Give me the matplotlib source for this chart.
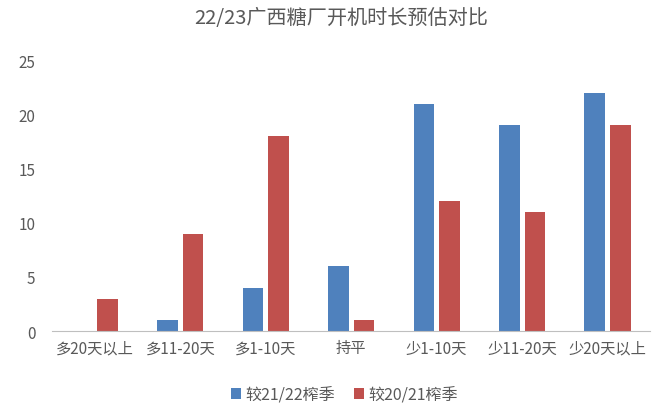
import matplotlib
import numpy as np

matplotlib.use("Agg")
import matplotlib.pyplot as plt

categories = ["多20天以上", "多11-20天", "多1-10天", "持平", "少1-10天", "少11-20天", "少20天以上"]
vs_2122 = [0, 1, 4, 6, 21, 19, 22]
vs_2021 = [3, 9, 18, 1, 12, 11, 19]
series_names = ["较21/22榨季", "较20/21榨季"]


def main() -> None:
    plt.rcParams["font.family"] = ["Noto Sans CJK SC", "DejaVu Sans"]
    text_color = "#595959"

    fig = plt.figure(figsize=(6.69, 4.10), dpi=100)
    ax = fig.add_axes([0.078, 0.19, 0.894, 0.66])

    x = np.arange(len(categories))
    w = 0.24
    ax.bar(x - 0.15, vs_2122, w, color="#4F81BD", label=series_names[0])
    ax.bar(x + 0.15, vs_2021, w, color="#C0504D", label=series_names[1])

    ax.set_xlim(-0.5, len(categories) - 0.5)
    ax.set_ylim(0, 25)
    ax.set_yticks(range(0, 26, 5))
    ax.set_xticks(x)
    ax.set_xticklabels(categories)

    for side in ["top", "right", "left"]:
        ax.spines[side].set_visible(False)
    ax.spines["bottom"].set_color("#BFBFBF")
    ax.tick_params(axis="both", length=0, colors=text_color, labelsize=11)
    ax.tick_params(axis="y", pad=12)
    ax.tick_params(axis="x", pad=6)

    fig.suptitle("22/23广西糖厂开机时长预估对比", x=0.51, y=0.98,
                 fontsize=14.5, color=text_color)
    fig.legend(loc="center", bbox_to_anchor=(0.515, 0.035), ncol=2,
               frameon=False, fontsize=11.5, handlelength=0.6, handleheight=0.6,
               handletextpad=0.3, columnspacing=1.2, labelcolor=text_color)

    fig.savefig("out.png", dpi=100)
    plt.close(fig)


if __name__ == "__main__":
    main()
